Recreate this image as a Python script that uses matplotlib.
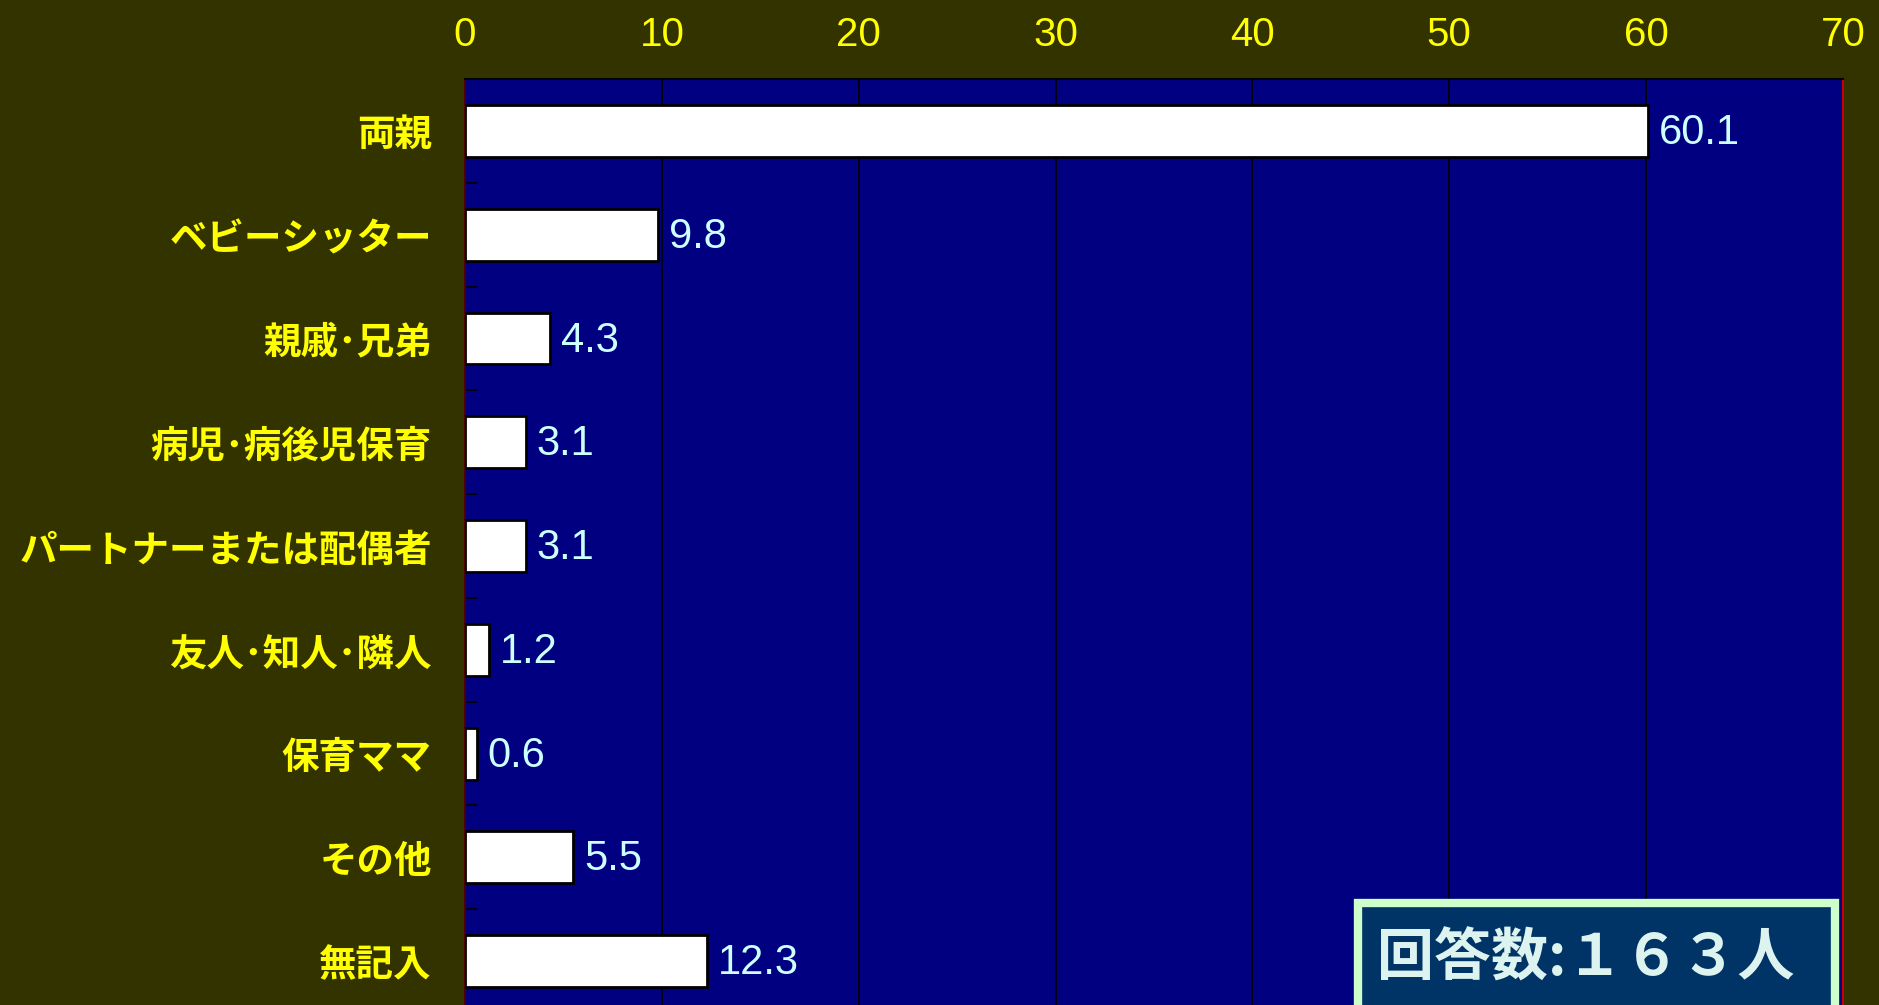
import matplotlib.pyplot as plt
from matplotlib.patches import Rectangle

plt.rcParams['font.family'] = ['Noto Sans CJK JP', 'DejaVu Sans']

categories = ['両親', 'ベビーシッター', '親戚･兄弟', '病児･病後児保育', 'パートナーまたは配偶者',
              '友人･知人･隣人', '保育ママ', 'その他', '無記入']
values = [60.1, 9.8, 4.3, 3.1, 3.1, 1.2, 0.6, 5.5, 12.3]
xticks = [0, 10, 20, 30, 40, 50, 60, 70]
note = '回答数:１６３人'

fig = plt.figure(figsize=(18.79, 10.05), dpi=100, facecolor='#333300')
ax = fig.add_axes([0.2475, -0.008, 0.7333, 0.9294])
ax.set_facecolor('#000080')

pos = list(range(len(categories)))
bars = ax.barh(pos, values, height=0.5, color='white', edgecolor='black', linewidth=2, zorder=3)
for y, v in zip(pos, values):
    ax.text(v + 0.55, y + 0.02, f'{v:.1f}', va='center', ha='left', color='#CCFFFF',
            fontsize=30, family='Liberation Sans', zorder=4)

ax.set_xlim(0, 70)
ax.set_ylim(len(categories) - 0.5, -0.5)
ax.set_xticks(xticks)
ax.xaxis.tick_top()
ax.tick_params(axis='x', length=0, pad=18, labelsize=29, labelcolor='#FFFF00')
for lab in ax.get_xticklabels():
    lab.set_family('Liberation Sans')
ax.grid(axis='x', color='black', linewidth=1.2, zorder=0)

ax.set_yticks(pos)
ax.set_yticklabels(categories, fontsize=27, fontweight='bold', color='#FFFF00')
ax.tick_params(axis='y', which='major', length=0, pad=24)
ax.set_yticks([p + 0.5 for p in pos[:-1]], minor=True)
ax.tick_params(axis='y', which='minor', direction='in', length=9, width=1.2, color='black')

ax.spines['top'].set_color('black')
ax.spines['top'].set_linewidth(1.5)
ax.spines['left'].set_color('#500000')
ax.spines['left'].set_linewidth(1.5)
ax.spines['right'].set_color('#CC0000')
ax.spines['right'].set_linewidth(1.5)
ax.spines['bottom'].set_visible(False)

box = Rectangle((0.7225, -0.05), 0.2539, 0.1515, transform=fig.transFigure,
                facecolor='#003366', edgecolor='#CCFFCC', linewidth=6, zorder=5)
fig.patches.append(box)
fig.text(0.844, 0.046, note, ha='center', va='center', color='#DDF3F0',
         fontsize=41, fontweight='bold', zorder=6)

fig.savefig('out.png', dpi=100, facecolor=fig.get_facecolor())
